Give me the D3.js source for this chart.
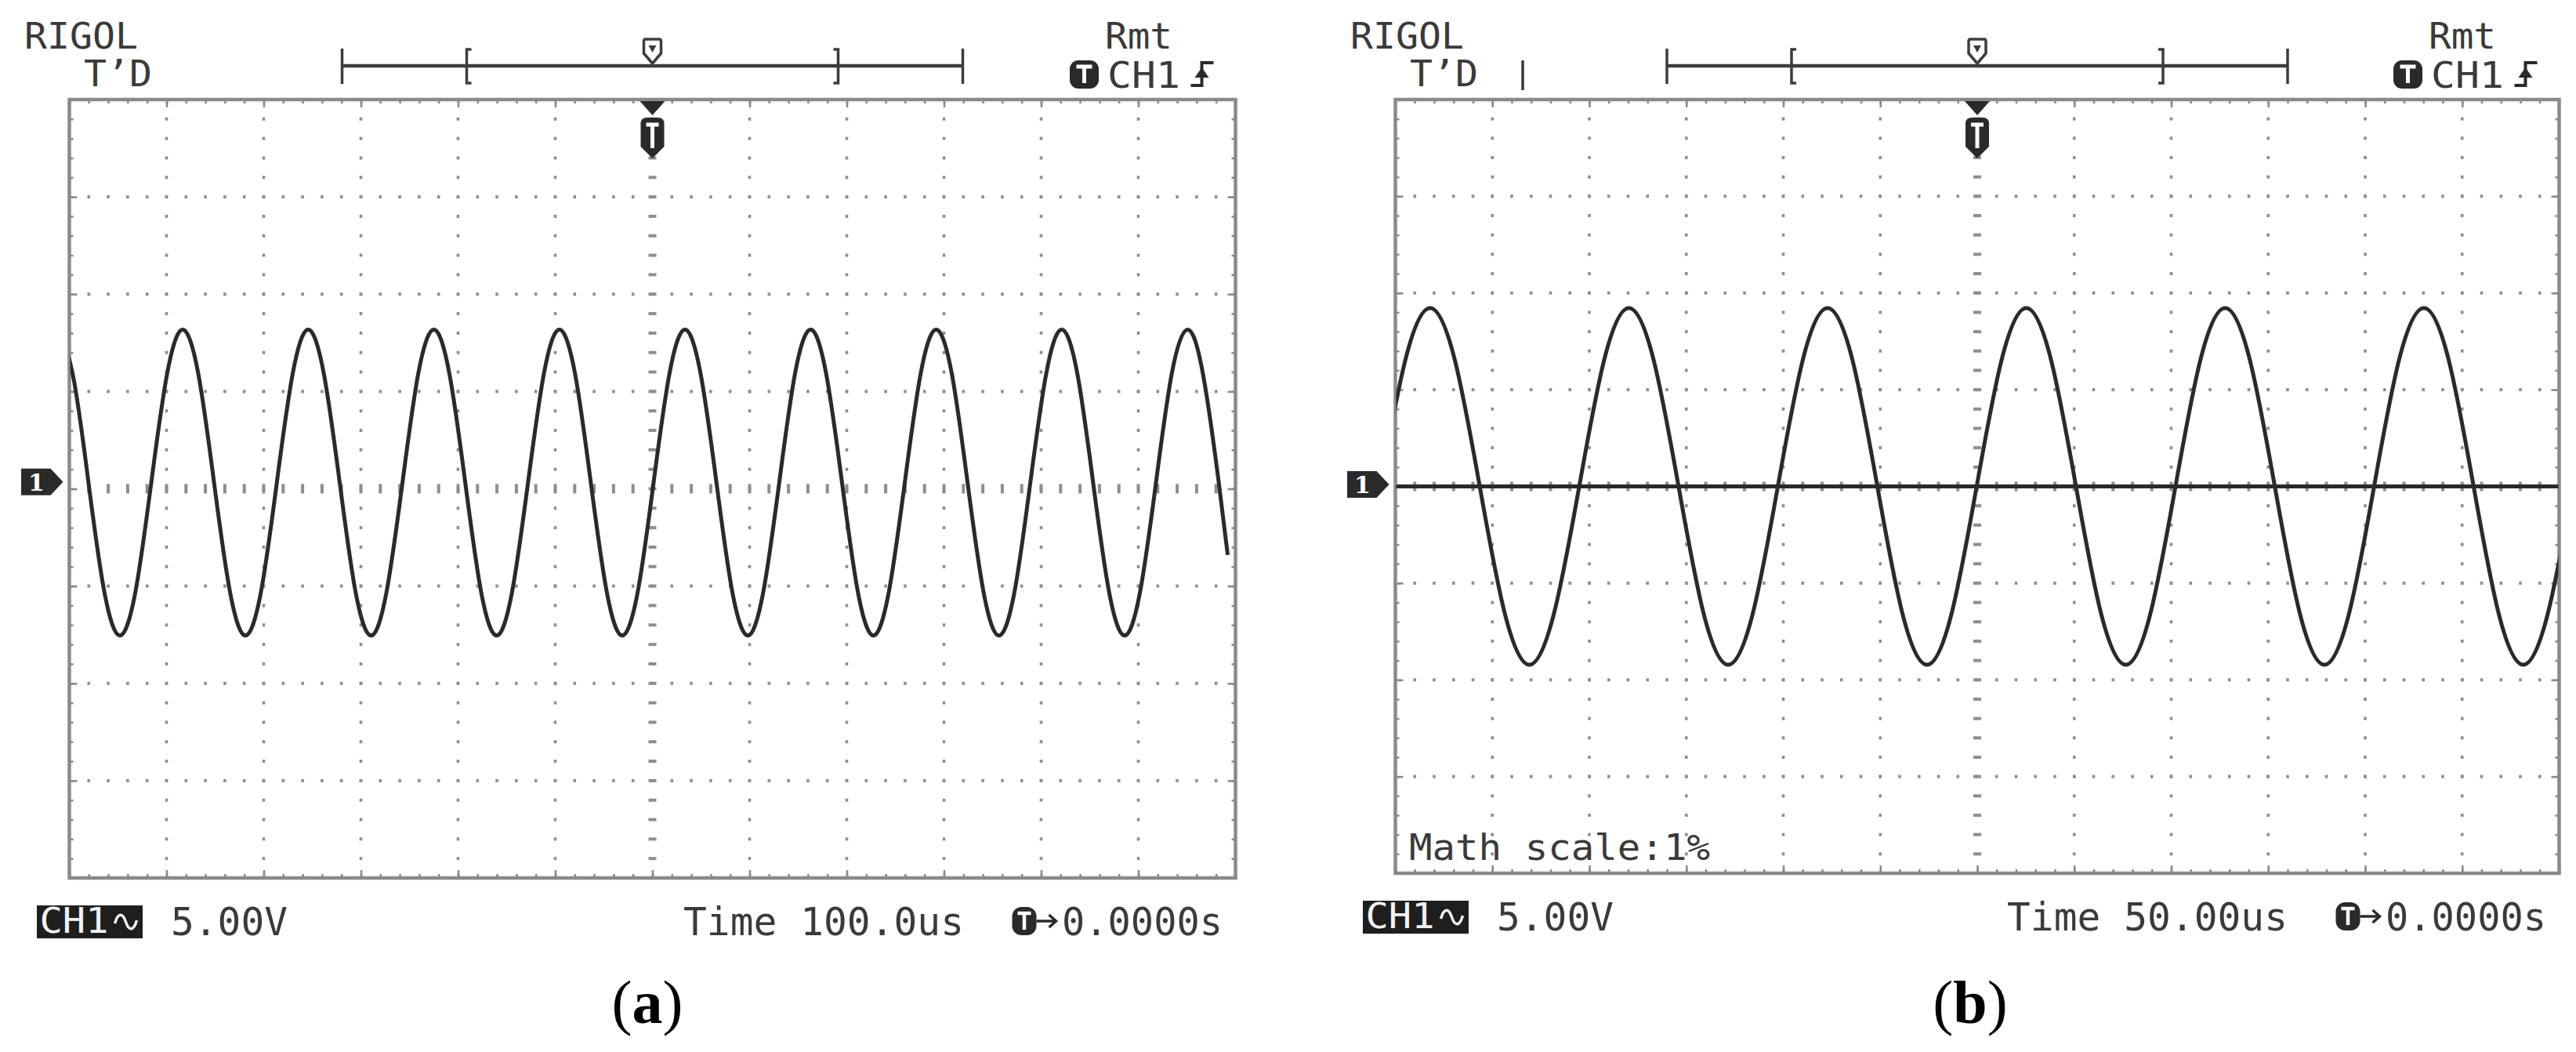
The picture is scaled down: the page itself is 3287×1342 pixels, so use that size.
<!DOCTYPE html>
<html><head><meta charset="utf-8">
<script src="https://cdn.jsdelivr.net/npm/d3@7"></script>
<style>html,body{margin:0;padding:0;background:#fff;} svg{display:block;}</style>
</head><body><svg id="chart" width="3287" height="1342"></svg>
<script>
// ---------------- data ----------------
const panelLabels = ["a", "b"];
const timePerDiv = [100, 50];          // us / div
const voltsPerDiv = [5, 5];            // V / div
const timeLabels = ["Time 100.0us", "Time 50.00us"];
const voltLabels = ["5.00V", "5.00V"];
const trigPosLabels = ["0.0000s", "0.0000s"];
const mathLabels = ["", "Math scale:1%"];
const ch1MarkerLevel = [0.35, 0.1];    // V, position of the "1" ground marker

// Panel (a): CH1 trace, time in us, voltage in V
const timesA = [
  -612.6, -596.5, -580.3, -564.2,
  -548.0, -531.8, -515.7, -499.5, -483.4, -467.2, -451.1, -434.9,
  -418.8, -402.6, -386.5, -370.3, -354.2, -338.0, -321.8, -305.7,
  -289.5, -273.4, -257.2, -241.1, -224.9, -208.8, -192.6, -176.5,
  -160.3, -144.2, -128.0, -111.8, -95.7, -79.5, -63.4, -47.2,
  -31.1, -14.9, 1.2, 17.4, 33.5, 49.7, 65.9, 82.0,
  98.2, 114.3, 130.5, 146.6, 162.8, 178.9, 195.1, 211.2,
  227.4, 243.5, 259.7, 275.9, 292.0, 308.2, 324.3, 340.5,
  356.6, 372.8, 388.9, 405.1, 421.2, 437.4, 453.5, 469.7,
  485.9, 502.0, 518.2, 534.3, 550.5, 566.6, 582.8, 592.0
];
const voltsA = [
  8.18, 5.88, 0.32, -5.24,
  -7.54, -5.24, 0.32, 5.88, 8.18, 5.88, 0.32, -5.24,
  -7.54, -5.24, 0.32, 5.88, 8.18, 5.88, 0.32, -5.24,
  -7.54, -5.24, 0.32, 5.88, 8.18, 5.88, 0.32, -5.24,
  -7.54, -5.24, 0.32, 5.88, 8.18, 5.88, 0.32, -5.24,
  -7.54, -5.24, 0.32, 5.88, 8.18, 5.88, 0.32, -5.24,
  -7.54, -5.24, 0.32, 5.88, 8.18, 5.88, 0.32, -5.24,
  -7.54, -5.24, 0.32, 5.88, 8.18, 5.88, 0.32, -5.24,
  -7.54, -5.24, 0.32, 5.88, 8.18, 5.88, 0.32, -5.24,
  -7.54, -5.24, 0.32, 5.88, 8.18, 5.88, 0.32, -3.40
];

// Panel (b): CH1 trace
const timesB = [
  -307.7, -294.9,
  -282.1, -269.3, -256.5, -243.7, -230.9, -218.1, -205.2, -192.4,
  -179.6, -166.8, -154.0, -141.2, -128.4, -115.6, -102.8, -90.0,
  -77.2, -64.3, -51.5, -38.7, -25.9, -13.1, -0.3, 12.5,
  25.3, 38.1, 50.9, 63.7, 76.6, 89.4, 102.2, 115.0,
  127.8, 140.6, 153.4, 166.2, 179.0, 191.8, 204.6, 217.4,
  230.3, 243.1, 255.9, 268.7, 281.5, 294.3, 307.1
];
const voltsB = [
  0, 6.52,
  9.22, 6.52, 0, -6.52, -9.22, -6.52, 0, 6.52,
  9.22, 6.52, 0, -6.52, -9.22, -6.52, 0, 6.52,
  9.22, 6.52, 0, -6.52, -9.22, -6.52, 0, 6.52,
  9.22, 6.52, 0, -6.52, -9.22, -6.52, 0, 6.52,
  9.22, 6.52, 0, -6.52, -9.22, -6.52, 0, 6.52,
  9.22, 6.52, 0, -6.52, -9.22, -6.52, 0
];
// Panel (b): math channel (flat)
const mathTimesB = [-300, 300];
const mathVoltsB = [0, 0];

// ---------------- drawing ----------------
const svg = d3.select("#chart");
svg.append("rect").attr("width", 3287).attr("height", 1342).attr("fill", "#fff");

const MONO = "'DejaVu Sans Mono', 'Liberation Mono', monospace";
const INK = "#2a2a2a";
const TXT = "#3a3a3a";
const GRID = "#8e8e8e";
const FRAME = "#8a8a8a";

function txt(g, x, y, s, size, len, fill) {
  const t = g.append("text").attr("x", x).attr("y", y).text(s)
    .attr("font-family", MONO).attr("font-size", size)
    .attr("fill", fill || TXT);
  if (len) t.attr("textLength", len).attr("lengthAdjust", "spacingAndGlyphs");
  return t;
}

const panels = [
  {L: 88.5, R: 1576.5, T: 127, B: 1120, labelX: 826,
   trace: timesA.map((t, i) => ({t, v: voltsA[i]})), math: null, extraBar: false},
  {L: 1780.5, R: 3265.5, T: 127, B: 1114, labelX: 2514,
   trace: timesB.map((t, i) => ({t, v: voltsB[i]})),
   math: mathTimesB.map((t, i) => ({t, v: mathVoltsB[i]})), extraBar: true}
];

panels.forEach((p, pi) => {
  const g = svg.append("g");
  const {L, R, T, B} = p;
  const C = (L + R) / 2;
  const tdiv = timePerDiv[pi], vdiv = voltsPerDiv[pi];
  const x = d3.scaleLinear().domain([-6 * tdiv, 6 * tdiv]).range([L, R]);
  const y = d3.scaleLinear().domain([-4 * vdiv, 4 * vdiv]).range([B, T]);
  const xd = d3.scaleLinear().domain([-6, 6]).range([L, R]);
  const yd = d3.scaleLinear().domain([-4, 4]).range([B, T]);

  const minorX = d3.range(-29, 30).map(i => i / 5);
  const minorY = d3.range(-19, 20).map(i => i / 5);
  const majorX = d3.range(-5, 6);
  const majorY = d3.range(-3, 4);

  // grid dots
  const dots = g.append("g").attr("fill", GRID);
  majorX.filter(v => v !== 0).forEach(xi => {
    minorY.forEach(yj => {
      dots.append("rect").attr("x", xd(xi) - 1.8).attr("y", yd(yj) - 2).attr("width", 3.6).attr("height", 4);
    });
  });
  majorY.filter(v => v !== 0).forEach(yj => {
    minorX.forEach(xi => {
      dots.append("rect").attr("x", xd(xi) - 1.8).attr("y", yd(yj) - 2).attr("width", 3.6).attr("height", 4);
    });
  });
  // centre horizontal: vertical bars
  minorX.forEach(xi => {
    dots.append("rect").attr("x", xd(xi) - 2).attr("y", yd(0) - 6).attr("width", 4).attr("height", 12);
  });
  // centre vertical: horizontal bars
  minorY.forEach(yj => {
    dots.append("rect").attr("x", xd(0) - 5).attr("y", yd(yj) - 2).attr("width", 10).attr("height", 4);
  });

  // border ticks via axes
  const minorAllX = d3.range(-30, 31).map(i => i / 5);
  const minorAllY = d3.range(-20, 21).map(i => i / 5);
  const majAllX = d3.range(-6, 7), majAllY = d3.range(-4, 5);
  const axes = [
    [d3.axisBottom(xd).tickValues(minorAllX).tickSize(5), `translate(0,${T})`],
    [d3.axisBottom(xd).tickValues(majAllX).tickSize(10), `translate(0,${T})`],
    [d3.axisTop(xd).tickValues(minorAllX).tickSize(5), `translate(0,${B})`],
    [d3.axisTop(xd).tickValues(majAllX).tickSize(10), `translate(0,${B})`],
    [d3.axisRight(yd).tickValues(minorAllY).tickSize(5), `translate(${L},0)`],
    [d3.axisRight(yd).tickValues(majAllY).tickSize(10), `translate(${L},0)`],
    [d3.axisLeft(yd).tickValues(minorAllY).tickSize(5), `translate(${R},0)`],
    [d3.axisLeft(yd).tickValues(majAllY).tickSize(10), `translate(${R},0)`]
  ];
  axes.forEach(([ax, tr]) => {
    const a = g.append("g").attr("transform", tr).call(ax.tickFormat(""));
    a.select(".domain").remove();
    a.selectAll("line").attr("stroke", FRAME).attr("stroke-width", 2.6);
  });

  // frame
  g.append("rect").attr("x", L).attr("y", T).attr("width", R - L).attr("height", B - T)
    .attr("fill", "none").attr("stroke", FRAME).attr("stroke-width", 4.5);

  // clip
  const cid = "clip" + pi;
  svg.append("clipPath").attr("id", cid).append("rect")
    .attr("x", L + 1).attr("y", T + 1).attr("width", R - L - 2).attr("height", B - T - 2);

  const line = d3.line().x(d => x(d.t)).y(d => y(d.v)).curve(d3.curveNatural);
  if (p.math) {
    g.append("path").datum(p.math).attr("d", d3.line().x(d => x(d.t)).y(d => y(d.v)))
      .attr("clip-path", `url(#${cid})`).attr("fill", "none")
      .attr("stroke", INK).attr("stroke-width", 5);
  }
  g.append("path").datum(p.trace).attr("d", line)
    .attr("clip-path", `url(#${cid})`).attr("fill", "none")
    .attr("stroke", INK).attr("stroke-width", 5).attr("stroke-linejoin", "round");

  // trigger position marker at top of grid
  g.append("path").attr("d", `M${C - 16},${T + 2} L${C + 16},${T + 2} L${C},${T + 20} Z`).attr("fill", INK);
  g.append("path").attr("d",
    `M${C - 15},${T + 31} Q${C - 15},${T + 23} ${C - 7},${T + 23} L${C + 7},${T + 23} Q${C + 15},${T + 23} ${C + 15},${T + 31} L${C + 15},${T + 60} L${C},${T + 75} L${C - 15},${T + 60} Z`)
    .attr("fill", INK);
  g.append("path").attr("d", `M${C - 8},${T + 32} H${C + 8} M${C},${T + 32} V${T + 62}`)
    .attr("stroke", "#fff").attr("stroke-width", 5).attr("fill", "none");

  // channel 1 ground marker
  const ym = y(ch1MarkerLevel[pi]);
  g.append("path").attr("d",
    `M${L - 61.5},${ym - 17} H${L - 24} L${L - 8},${ym} L${L - 24},${ym + 17} H${L - 61.5} Z`)
    .attr("fill", INK);
  g.append("text").attr("x", L - 42).attr("y", ym + 11).attr("text-anchor", "middle")
    .attr("font-family", "'DejaVu Serif', serif").attr("font-weight", "bold")
    .attr("font-size", 30).attr("fill", "#fff").text("1");

  // ----- header -----
  txt(g, L - 57.5, 62, "RIGOL", 46, 145);
  txt(g, L + 18.5, 110, "T’D", 46, 87);
  if (p.extraBar) {
    g.append("line").attr("x1", L + 162.5).attr("x2", L + 162.5).attr("y1", 77).attr("y2", 115)
      .attr("stroke", "#3a3a3a").attr("stroke-width", 3.5);
  }
  const hb = g.append("g").attr("stroke", "#3c3c3c").attr("fill", "none");
  hb.append("line").attr("x1", C - 396).attr("x2", C + 396).attr("y1", 84).attr("y2", 84).attr("stroke-width", 4.5);
  hb.append("line").attr("x1", C - 396).attr("x2", C - 396).attr("y1", 62).attr("y2", 107).attr("stroke-width", 3.5);
  hb.append("line").attr("x1", C + 396).attr("x2", C + 396).attr("y1", 62).attr("y2", 107).attr("stroke-width", 3.5);
  hb.append("path").attr("d", `M${C - 231},63 H${C - 237} V106 H${C - 231}`).attr("stroke-width", 3.5);
  hb.append("path").attr("d", `M${C + 231},63 H${C + 237} V106 H${C + 231}`).attr("stroke-width", 3.5);
  // memory position marker
  g.append("path").attr("d",
    `M${C - 9},50 H${C + 9} Q${C + 11},50 ${C + 11},53 V68 L${C},81 L${C - 11},68 V53 Q${C - 11},50 ${C - 9},50 Z`)
    .attr("fill", "#fff").attr("stroke", "#3c3c3c").attr("stroke-width", 3.5);
  g.append("path").attr("d", `M${C - 5},58 H${C + 5} L${C},67 Z`).attr("fill", "#3c3c3c");

  txt(g, R - 166.5, 62, "Rmt", 46, 86);
  // trigger source icon
  g.append("rect").attr("x", R - 211.5).attr("y", 77).attr("width", 37).attr("height", 36).attr("rx", 11)
    .attr("fill", INK);
  g.append("path").attr("d", `M${R - 203},85 H${R - 183} M${R - 193},85 V106`)
    .attr("stroke", "#fff").attr("stroke-width", 5).attr("fill", "none");
  txt(g, R - 163.5, 112, "CH1", 46, 93);
  // rising edge symbol
  g.append("path").attr("d", `M${R - 57},109 H${R - 43} V80 H${R - 28}`)
    .attr("stroke", INK).attr("stroke-width", 4).attr("fill", "none");
  g.append("path").attr("d", `M${R - 52},99 L${R - 43},86 L${R - 34},99 Z`).attr("fill", INK);

  // ----- footer -----
  g.append("rect").attr("x", L - 41.5).attr("y", B + 35).attr("width", 135).attr("height", 42).attr("fill", "#1e1e1e");
  txt(g, L - 38, B + 70, "CH1", 44, 88, "#f2f2f2");
  g.append("path").attr("d",
    `M${L + 58},${B + 58} C${L + 62},${B + 44} ${L + 68},${B + 44} ${L + 72},${B + 56} S${L + 82},${B + 68} ${L + 86},${B + 54}`)
    .attr("stroke", "#f2f2f2").attr("stroke-width", 3.5).attr("fill", "none");
  txt(g, L + 129.5, B + 73, voltLabels[pi], 50, 149);
  txt(g, R - 704.5, B + 73, timeLabels[pi], 50, 358);
  g.append("rect").attr("x", R - 285).attr("y", B + 37).attr("width", 31).attr("height", 36).attr("rx", 12)
    .attr("fill", INK);
  g.append("path").attr("d", `M${R - 278},${B + 45} H${R - 261} M${R - 269.5},${B + 45} V${B + 66}`)
    .attr("stroke", "#fff").attr("stroke-width", 4.5).attr("fill", "none");
  g.append("path").attr("d", `M${R - 254},${B + 55} H${R - 230} M${R - 238},${B + 47} L${R - 229},${B + 55} L${R - 238},${B + 63}`)
    .attr("stroke", INK).attr("stroke-width", 3.5).attr("fill", "none");
  txt(g, R - 221.5, B + 73, trigPosLabels[pi], 50, 205);

  if (mathLabels[pi]) txt(g, L + 17.5, B - 17, mathLabels[pi], 46, 384);

  // caption
  const cap = svg.append("text").attr("x", p.labelX).attr("y", 1305).attr("text-anchor", "middle")
    .attr("font-family", "'Liberation Serif', 'Times New Roman', serif").attr("font-size", 78).attr("fill", "#000");
  cap.append("tspan").text("(");
  cap.append("tspan").attr("font-weight", "bold").text(panelLabels[pi]);
  cap.append("tspan").text(")");
});
</script>
</body></html>
